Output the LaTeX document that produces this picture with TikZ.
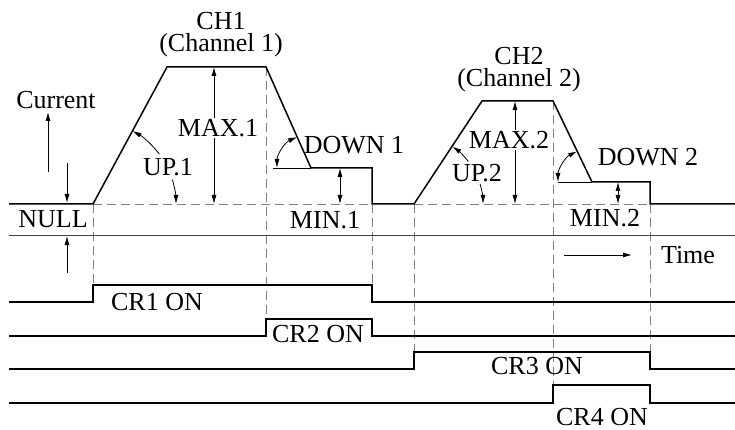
\documentclass[tikz,border=0pt]{standalone}
\usepackage{fontspec}
\setmainfont{Liberation Serif}
\usetikzlibrary{arrows.meta}
\tikzset{
  wave/.style={line width=1.5pt},
  guide/.style={gray, line width=0.9pt, dash pattern=on 9pt off 5pt},
  dim/.style={line width=0.8pt, {Latex[length=9pt,width=5pt]}-{Latex[length=9pt,width=5pt]}},
  dimto/.style={line width=0.8pt, -{Latex[length=9pt,width=5pt]}},
  lbl/.style={font=\fontsize{26}{28}\selectfont, inner sep=0pt},
  chan/.style={lbl, align=center, font=\fontsize{26}{22}\selectfont}
}
\begin{document}
\begin{tikzpicture}[x=1pt,y=-1pt]
\useasboundingbox (0,0) rectangle (735,430);
% dashed guides
\foreach \x/\ya/\yb in {93/204/285, 266/67/319, 372/204/285, 414/204/352, 553/101/385, 650/204/352}
\draw[guide] (\x,\ya) -- (\x,\yb);
\draw[guide] (93,204) -- (372,204);
\draw[guide] (414,204) -- (650,204);
\draw[line width=0.8pt, black!75] (9,235) -- (735,235);
% current
\draw[wave] (9,204) -- (93,204) -- (167,67) -- (266,67) -- (311,168) -- (372,168) -- (372,204)
  -- (414,204) -- (482,101) -- (553,101) -- (592,182) -- (650,182) -- (650,204) -- (735,204);
\draw[line width=0.8pt] (273,168) -- (311,168);
\draw[line width=0.8pt] (558,182) -- (592,182);
% relays
\draw[wave] (9,302) -- (93,302) -- (93,285) -- (372,285) -- (372,302) -- (735,302);
\draw[wave] (9,336) -- (266,336) -- (266,319) -- (372,319) -- (372,336) -- (735,336);
\draw[wave] (9,369) -- (414,369) -- (414,352) -- (650,352) -- (650,369) -- (735,369);
\draw[wave] (9,403) -- (553,403) -- (553,385) -- (650,385) -- (650,403) -- (735,403);
% axis arrows
\node[lbl] (cur) at (56,100) {Current};
\draw[dimto] (48,172) -- (48,112);
\node[lbl] (null) at (53,219) {NULL};
\draw[dimto] (67,163) -- (67,203);
\draw[dimto] (67,273) -- (67,236);
\node[lbl] (time) at (688,255) {Time};
\draw[dimto] (564,255) -- (632,255);
% channel 1
\node[chan] (ch1) at (221,35) {CH1\\(Channel 1)};
\draw[dim] (214,67) -- (214,204);
\node[lbl, fill=white, inner sep=1pt] (max1) at (218,128) {MAX.1};
\node[lbl] (up1) at (168,167) {UP.1};
\draw[dimto] ([shift={(-37:83)}]93,204) arc[start angle=-37, end angle=-61.6, radius=83];
\draw[dimto] ([shift={(-17:83)}]93,204) arc[start angle=-17, end angle=0, radius=83];
\draw[dim] ([shift={(180:34)}]311,168) arc[start angle=180, end angle=246, radius=34];
\node[lbl] (down1) at (354,145) {DOWN 1};
\draw[dim] (340,168) -- (340,204);
\node[lbl] (min1) at (325,220) {MIN.1};
% channel 2
\node[chan] (ch2) at (519,70) {CH2\\(Channel 2)};
\draw[dim] (515,101) -- (515,204);
\node[lbl, fill=white, inner sep=1pt] (max2) at (509,140) {MAX.2};
\node[lbl] (up2) at (477,173) {UP.2};
\draw[dimto] ([shift={(-38:69)}]414,204) arc[start angle=-38, end angle=-56.3, radius=69];
\draw[dimto] ([shift={(-17:69)}]414,204) arc[start angle=-17, end angle=0, radius=69];
\draw[dim] ([shift={(180:34)}]592,182) arc[start angle=180, end angle=244.3, radius=34];
\node[lbl] (down2) at (648,157) {DOWN 2};
\draw[dim] (618,182) -- (618,204);
\node[lbl] (min2) at (605,218) {MIN.2};
% relay labels
\node[lbl] (cr1) at (157,302) {CR1 ON};
\node[lbl] (cr2) at (318,334) {CR2 ON};
\node[lbl] (cr3) at (537,366) {CR3 ON};
\node[lbl] (cr4) at (602,417) {CR4 ON};
\end{tikzpicture}
\end{document}
